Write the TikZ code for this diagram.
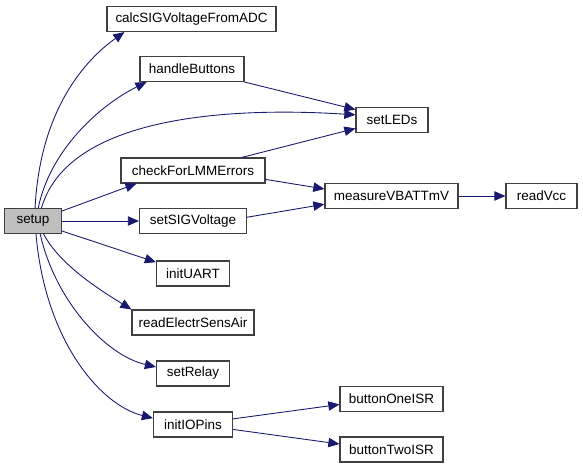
\documentclass[tikz,border=0pt]{standalone}
\usepackage{fontspec}
\setmainfont{Liberation Sans}
\usepackage{tikz}
\usetikzlibrary{arrows.meta}
\definecolor{edgeblue}{HTML}{191970}
\definecolor{boxgray}{HTML}{404040}

\begin{document}
\begin{tikzpicture}[x=0.03cm, y=-0.03cm,
    func/.style={draw=boxgray, line width=0.9pt, fill=white, minimum height=0.75cm, inner sep=0pt, font=\fontsize{11.5}{13}\selectfont},
    call/.style={-{Triangle[length=9.5pt, width=8pt]}, edgeblue, line width=0.75pt}]
    \useasboundingbox (0,0) rectangle (583,468);
    % Funções
    \node[func, fill=black!25, minimum width=1.71cm] (setup) at (33,221) {setup};
    \node[func, minimum width=5.07cm] (calc) at (191.5,19) {calcSIGVoltageFromADC};
    \node[func, minimum width=3.12cm] (handle) at (192,69) {handleButtons};
    \node[func, minimum width=2.16cm] (leds) at (392,120) {setLEDs};
    \node[func, minimum width=4.32cm] (lmm) at (193,170.5) {checkForLMMErrors};
    \node[func, minimum width=3.99cm] (vbatt) at (391.5,196) {measureVBATTmV};
    \node[func, minimum width=2.13cm] (vcc) at (541.5,196) {readVcc};
    \node[func, minimum width=3.21cm] (sigv) at (193,221) {setSIGVoltage};
    \node[func, minimum width=2.19cm] (uart) at (193,273.5) {initUART};
    \node[func, minimum width=3.66cm] (sens) at (193,322.5) {readElectrSensAir};
    \node[func, minimum width=2.19cm] (relay) at (193,373.5) {setRelay};
    \node[func, minimum width=2.37cm] (pins) at (193,424.5) {initIOPins};
    \node[func, minimum width=3.09cm] (isr1) at (391.5,399) {buttonOneISR};
    \node[func, minimum width=3.09cm] (isr2) at (391.5,449.5) {buttonTwoISR};
    % Chamadas de setup
    \draw[call] (setup.81) .. controls (40,110) and (85,60) .. (calc.-169);
    \draw[call] (setup.68) .. controls (50,150) and (100,105) .. (handle.-164);
    \draw[call] (setup.57) .. controls (70,110) and (250,108) .. (leds.172);
    \draw[call] (setup.19) -- (lmm.-167);
    \draw[call] (setup) -- (sigv);
    \draw[call] (setup.-19) -- (uart.163);
    \draw[call] (setup.-51) .. controls (60,265) and (100,290) .. (sens.north west);
    \draw[call] (setup.-61) .. controls (55,300) and (105,355) .. (relay.170);
    \draw[call] (setup.-77) .. controls (45,340) and (100,405) .. (pins.171);
    % Outras chamadas
    \draw[call] (handle.south east) -- (leds.164);
    \draw[call] (lmm.15) -- (leds.-167);
    \draw[call] (lmm.-7) -- (vbatt.174);
    \draw[call] (sigv.4) -- (vbatt.-173);
    \draw[call] (vbatt) -- (vcc);
    \draw[call] (pins.8) -- (isr1.-174);
    \draw[call] (pins.-7) -- (isr2.174);
\end{tikzpicture}
\end{document}
